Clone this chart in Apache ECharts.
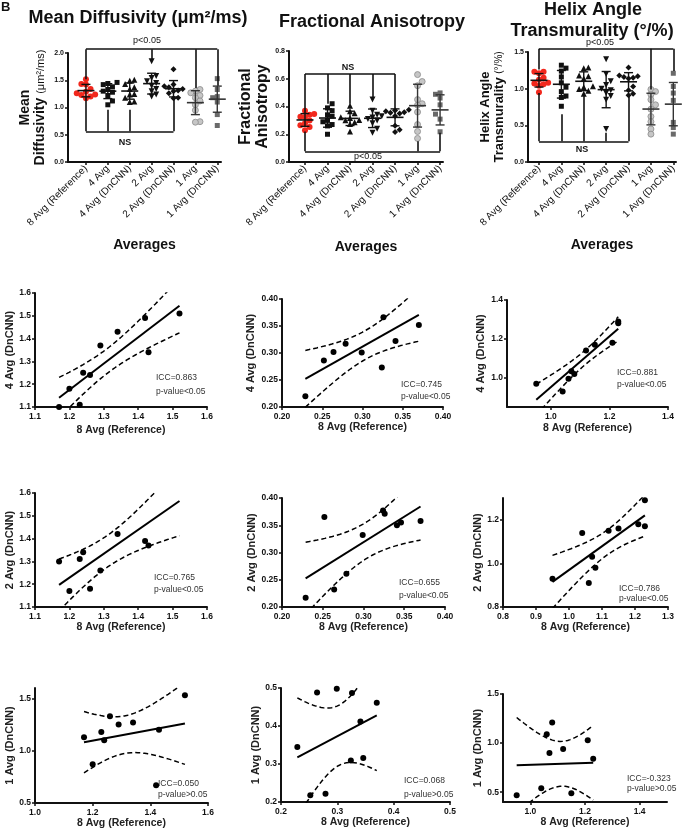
<!DOCTYPE html>
<html><head><meta charset="utf-8">
<script src="https://cdn.jsdelivr.net/npm/echarts@6/dist/echarts.min.js"></script>
<style>html,body{margin:0;padding:0;background:#fff}#c{width:691px;height:831px}</style>
</head><body><div id="c"></div>
<script>
// ---------------- DATA ----------------
const groups = ['8 Avg (Reference)','4 Avg','4 Avg (DnCNN)','2 Avg','2 Avg (DnCNN)','1 Avg','1 Avg (DnCNN)'];

// Mean diffusivity (um^2/ms)
const mdRef  = [1.17,1.20,1.23,1.24,1.26,1.29,1.34,1.42,1.43,1.52];
const md4    = [1.46,1.44,1.42,1.38,1.33,1.30,1.28,1.22,1.12,1.05];
const md4Dn  = [1.10,1.18,1.11,1.25,1.24,1.37,1.43,1.49,1.34,1.51];
const md2    = [1.85,1.58,1.54,1.48,1.45,1.40,1.34,1.30,1.24,1.20];
const md2Dn  = [1.30,1.17,1.31,1.34,1.18,1.26,1.42,1.39,1.37,1.70];
const md1    = [1.33,1.30,1.27,1.22,1.18,1.12,1.05,0.95,0.74,0.73];
const md1Dn  = [1.13,0.87,1.18,1.10,1.33,1.25,1.27,0.67,1.20,1.53];

// Fractional anisotropy
const faRef  = [0.229,0.252,0.264,0.279,0.299,0.324,0.326,0.341,0.346,0.370];
const fa4    = [0.42,0.39,0.37,0.34,0.33,0.30,0.29,0.27,0.26,0.20];
const fa4Dn  = [0.220,0.286,0.302,0.317,0.301,0.273,0.366,0.322,0.405,0.352];
const fa2    = [0.45,0.37,0.34,0.33,0.32,0.31,0.30,0.28,0.24,0.21];
const fa2Dn  = [0.217,0.365,0.232,0.261,0.332,0.377,0.371,0.350,0.355,0.358];
const fa1    = [0.63,0.58,0.55,0.45,0.42,0.41,0.36,0.27,0.22,0.17];
const fa1Dn  = [0.345,0.218,0.488,0.222,0.498,0.309,0.487,0.412,0.316,0.461];

// Helix angle transmurality (deg/%)
const haRef  = [0.95,1.04,1.06,1.07,1.08,1.12,1.15,1.21,1.23,1.23];
const ha4    = [1.32,1.28,1.24,1.16,1.08,1.02,0.96,0.90,0.88,0.76];
const ha4Dn  = [0.97,0.93,0.995,1.034,1.02,1.14,1.17,1.18,1.28,1.29];
const ha2    = [1.40,1.20,1.10,1.05,1.00,0.98,0.94,0.90,0.85,0.45];
const ha2Dn  = [0.93,1.14,0.91,1.03,0.98,1.15,1.16,1.18,1.29,1.17];
const ha1    = [0.99,0.96,0.92,0.85,0.78,0.72,0.62,0.55,0.45,0.38];
const ha1Dn  = [0.47,0.54,1.09,0.90,1.21,0.94,0.49,1.03,0.84,0.38];

// tick labels
const mdTopTicks = [0,0.5,1.0,1.5,2.0];
const faTopTicks = [0,0.2,0.4,0.6,0.8];
const haTopTicks = [0,0.5,1.0,1.5];
const mdTicksA = [1.1,1.2,1.3,1.4,1.5,1.6];
const mdTicksB = [1.0,1.2,1.4,1.6];
const mdTicksC = [0.5,1.0,1.5];
const faTicksA = [0.20,0.25,0.30,0.35,0.40];
const faTicksB = [0.2,0.3,0.4,0.5];
const haTicksA = [1.0,1.2,1.4];
const haTicksB = [0.8,0.9,1.0,1.1,1.2,1.3];
const haTicksC = [0.8,1.0,1.2];
const haTicksD = [0.5,1.0,1.5];
const iccLabels = [
  ['ICC=0.863','p-value<0.05'],['ICC=0.745','p-value<0.05'],['ICC=0.881','p-value<0.05'],
  ['ICC=0.765','p-value<0.05'],['ICC=0.655','p-value<0.05'],['ICC=0.786','p-value<0.05'],
  ['ICC=0.050','p-value>0.05'],['ICC=0.068','p-value>0.05'],['ICC=-0.323','p-value>0.05']
];

// ---------------- HELPERS ----------------
const F = 'Arial, "Liberation Sans", sans-serif';
const INK = '#111';
const mean = a => a.reduce((s,v)=>s+v,0)/a.length;
const sd = a => { const m = mean(a); return Math.sqrt(a.reduce((s,v)=>s+(v-m)*(v-m),0)/(a.length-1)); };
const T95 = {7:2.365, 8:2.306, 9:2.262, 10:2.228};
function fit(xs, ys){
  const n = xs.length, mx = mean(xs), my = mean(ys);
  let sxx = 0, sxy = 0;
  xs.forEach((x,i)=>{ sxx += (x-mx)*(x-mx); sxy += (x-mx)*(ys[i]-my); });
  const b = sxy/sxx, a = my - b*mx;
  let ss = 0; xs.forEach((x,i)=>{ const r = ys[i]-a-b*x; ss += r*r; });
  const s = Math.sqrt(ss/(n-2)), t = T95[n-2];
  return { f: x => a + b*x, band: x => t*s*Math.sqrt(1/n + (x-mx)*(x-mx)/sxx) };
}
function swarm(vals, win, step){
  const idx = vals.map((v,i)=>i).sort((p,q)=>vals[p]-vals[q]);
  const off = new Array(vals.length).fill(0), placed = [];
  const cands = [0, step, -step, 2*step, -2*step, 3*step, -3*step];
  idx.forEach(i=>{
    const near = placed.filter(j=>Math.abs(vals[j]-vals[i]) < win).map(j=>off[j]);
    const c = cands.find(c=>!near.some(o=>Math.abs(o-c) < step*0.9));
    off[i] = c === undefined ? 0 : c;
    placed.push(i);
  });
  return off;
}

const grids = [], xAxes = [], yAxes = [], series = [], graphics = [];
function axisBase(ticks, dec, fs, margin){
  return {
    axisLine:{show:true, onZero:false, lineStyle:{color:INK, width:2}},
    axisTick:{show:true, length:3, inside:false, customValues:ticks, lineStyle:{color:INK, width:1.5}},
    axisLabel:{customValues:ticks, formatter:v=>Number(v).toFixed(dec), color:INK, fontFamily:F, fontWeight:'bold', fontSize:fs, margin:margin},
    splitLine:{show:false}
  };
}
function text(x, y, s, fs, weight, align, color){
  graphics.push({type:'text', x, y, silent:true, style:{text:s, fontFamily:F, fontSize:fs, fontWeight:weight||'normal', fill:color||INK, textAlign:align||'center', textVerticalAlign:'middle'}});
}

// ---------------- TOP ROW ----------------
const groupStyle = [
  {symbol:'circle', size:6, color:'#f2281d'},
  {symbol:'rect', size:5, color:'#111'},
  {symbol:'triangle', size:6, color:'#111'},
  {symbol:'triangle', size:6, color:'#111', rotate:180},
  {symbol:'diamond', size:6, color:'#111'},
  {symbol:'circle', size:6, color:'#c6c6c6', border:'#8a8a8a'},
  {symbol:'rect', size:5, color:'#6a6a6a'}
];
const topPanels = [
  {data:[mdRef,md4,md4Dn,md2,md2Dn,md1,md1Dn], grid:{left:68,top:53,width:153,height:109}, xr:[-0.82,6.17], yr:[0,2], ticks:mdTopTicks,
   yName:'{a|Mean}\n{a|Diffusivity }{b|(μm²/ms)}', nameFs:14, yGap:20, xGap:76,
   brackets:[{level:2.07, ends:[[0,1.52],[3,1.87],[5,1.36],[6,1.40]]},{level:0.563, ends:[[0,1.20],[1,0.96],[2,0.96],[4,1.20]]}],
   notes:[[147,41,'p<0.05','normal'],[125,143,'NS','bold']]},
  {data:[faRef,fa4,fa4Dn,fa2,fa2Dn,fa1,fa1Dn], grid:{left:289,top:51,width:154,height:111}, xr:[-0.71,6.13], yr:[0,0.8], ticks:faTopTicks,
   yName:'{a|Fractional}\n{a|Anisotropy}', nameFs:16, yGap:16, xGap:78,
   brackets:[{level:0.635, ends:[[0,0.35],[1,0.42],[2,0.42],[3,0.46],[4,0.39]]},{level:0.077, ends:[[0,0.22],[5,0.15],[6,0.21]]}],
   notes:[[348,68,'NS','bold'],[368,157,'p<0.05','normal']]},
  {data:[haRef,ha4,ha4Dn,ha2,ha2Dn,ha1,ha1Dn], grid:{left:528,top:52,width:148,height:110}, xr:[-0.49,6.12], yr:[0,1.5], ticks:haTopTicks,
   yName:'{a|Helix Angle}\n{a|Transmurality }{b|(°/%)}', nameFs:13, yGap:22, xGap:76,
   brackets:[{level:1.545, ends:[[0,1.26],[5,0.99],[6,1.24]]},{level:0.282, ends:[[0,0.94],[1,0.65],[2,0.90],[3,0.40],[4,0.90]]}],
   notes:[[600,43,'p<0.05','normal'],[582,150,'NS','bold']]}
];
topPanels.forEach(p=>{
  const gi = grids.length;
  grids.push(Object.assign({outerBoundsMode:'none', containLabel:false}, p.grid));
  const cats = groups.map((g,i)=>i);
  xAxes.push(Object.assign(axisBase(cats,0,10,5), {gridIndex:gi, type:'value', min:p.xr[0], max:p.xr[1],
    name:'Averages', nameLocation:'middle', nameGap:p.xGap, nameTextStyle:{fontFamily:F, fontSize:14, fontWeight:'bold', color:INK}}));
  const xa = xAxes[xAxes.length-1];
  xa.axisLabel = {customValues:cats, formatter:v=>groups[Math.round(v)], rotate:45, color:INK, fontFamily:F, fontSize:10, margin:5};
  yAxes.push(Object.assign(axisBase(p.ticks,1,7,4), {gridIndex:gi, type:'value', min:p.yr[0], max:p.yr[1],
    name:p.yName, nameLocation:'middle', nameGap:p.yGap,
    nameTextStyle:{fontFamily:F, color:INK, lineHeight:p.nameFs+1, rich:{a:{fontFamily:F, fontSize:p.nameFs, fontWeight:'bold', color:INK, lineHeight:p.nameFs+1}, b:{fontFamily:F, fontSize:p.nameFs-3, color:INK, lineHeight:p.nameFs+1}}}}));
  const ai = xAxes.length-1;
  const spacing = p.grid.width/(p.xr[1]-p.xr[0]);
  const pxPerVal = p.grid.height/(p.yr[1]-p.yr[0]);
  p.data.forEach((vals, gidx)=>{
    const st = groupStyle[gidx];
    const off = swarm(vals, 5/pxPerVal, 4.6/spacing);
    series.push({type:'scatter', xAxisIndex:ai, yAxisIndex:ai, symbol:st.symbol, symbolSize:st.size, symbolRotate:st.rotate||0,
      itemStyle:{color:st.color, borderColor:st.border||st.color, borderWidth:st.border?0.8:0, opacity:1},
      data: vals.map((v,i)=>[gidx+off[i], v]), z:3, silent:true});
  });
  series.push({type:'custom', xAxisIndex:ai, yAxisIndex:ai, z:5, silent:true,
    data: p.data.map((vals,i)=>[i, mean(vals), sd(vals)]),
    renderItem:(params, api)=>{
      const x = api.value(0), m = api.value(1), s = api.value(2);
      const pm = api.coord([x,m]), pt = api.coord([x,m+s]), pb = api.coord([x,m-s]);
      const col = x >= 5 ? '#333' : INK;
      const ls = {stroke:col, lineWidth:1.4};
      return {type:'group', children:[
        {type:'line', shape:{x1:pm[0]-8.5,y1:pm[1],x2:pm[0]+8.5,y2:pm[1]}, style:{stroke:col, lineWidth:1.6}},
        {type:'line', shape:{x1:pt[0],y1:pt[1],x2:pb[0],y2:pb[1]}, style:ls},
        {type:'line', shape:{x1:pt[0]-4.5,y1:pt[1],x2:pt[0]+4.5,y2:pt[1]}, style:ls},
        {type:'line', shape:{x1:pb[0]-4.5,y1:pb[1],x2:pb[0]+4.5,y2:pb[1]}, style:ls}
      ]};
    }});
  p.brackets.forEach(b=>{
    const xs = b.ends.map(e=>e[0]);
    const data = [{coords:[[Math.min(...xs), b.level],[Math.max(...xs), b.level]]}]
      .concat(b.ends.map(e=>({coords:[[e[0], b.level],[e[0], e[1]]]})));
    series.push({type:'lines', coordinateSystem:'cartesian2d', xAxisIndex:ai, yAxisIndex:ai, clip:false, silent:true, z:6,
      lineStyle:{color:INK, width:1.6, opacity:1, curveness:0}, data});
  });
  p.notes.forEach(n=>text(n[0], n[1], n[2], 9, n[3]));
});

// ---------------- SCATTER ROWS ----------------
const scatterPanels = [
  {x:mdRef, y:md4Dn, grid:{left:35,top:293,width:172,height:114}, xr:[1.1,1.6], xt:mdTicksA, yr:[1.1,1.6], yt:mdTicksA, xd:1, yd:1, yName:'4 Avg (DnCNN)', xGap:18, yGap:14, icc:[156,378,392]},
  {x:faRef, y:fa4Dn, grid:{left:282,top:299,width:161,height:108}, xr:[0.2,0.4], xt:faTicksA, yr:[0.2,0.4], yt:faTicksA, xd:2, yd:2, yName:'4 Avg (DnCNN)', xGap:13, yGap:26, icc:[401,385,397]},
  {x:haRef, y:ha4Dn, grid:{left:507,top:300,width:161,height:107}, xr:[0.85,1.4], xt:haTicksA, yr:[0.85,1.4], yt:haTicksA, xd:1, yd:1, yName:'4 Avg (DnCNN)', xGap:16, yGap:21, icc:[617,373,385]},
  {x:mdRef, y:md2Dn, grid:{left:35,top:493,width:172,height:114}, xr:[1.1,1.6], xt:mdTicksA, yr:[1.1,1.6], yt:mdTicksA, xd:1, yd:1, yName:'2 Avg (DnCNN)', xGap:15, yGap:16, icc:[154,578,590]},
  {x:faRef, y:fa2Dn, grid:{left:282,top:498,width:163,height:109}, xr:[0.2,0.4], xt:faTicksA, yr:[0.2,0.4], yt:faTicksA, xd:2, yd:2, yName:'2 Avg (DnCNN)', xGap:15, yGap:24, icc:[399,583,596]},
  {x:haRef, y:ha2Dn, grid:{left:503,top:498,width:165,height:109}, xr:[0.8,1.3], xt:haTicksB, yr:[0.8,1.3], yt:haTicksC, xd:1, yd:1, yName:'2 Avg (DnCNN)', xGap:15, yGap:19, icc:[619,589,599]},
  {x:mdRef, y:md1Dn, grid:{left:35,top:688,width:173,height:115}, xr:[1.0,1.6], xt:mdTicksB, yr:[0.5,1.6], yt:mdTicksC, xd:1, yd:1, yName:'1 Avg (DnCNN)', xGap:14, yGap:16, icc:[158,784,795]},
  {x:faRef, y:fa1Dn, grid:{left:281,top:688,width:169,height:114}, xr:[0.2,0.5], xt:faTicksB, yr:[0.2,0.5], yt:faTicksB, xd:1, yd:1, yName:'1 Avg (DnCNN)', xGap:15, yGap:18, icc:[404,781,795]},
  {x:haRef, y:ha1Dn, grid:{left:503,top:694,width:164,height:108}, xr:[0.9,1.5], xt:haTicksA, yr:[0.4,1.5], yt:haTicksD, xd:1, yd:1, yName:'1 Avg (DnCNN)', xGap:14, yGap:14, icc:[627,779,789]}
];
scatterPanels.forEach((p, k)=>{
  const gi = grids.length;
  grids.push(Object.assign({outerBoundsMode:'none', containLabel:false}, p.grid));
  xAxes.push(Object.assign(axisBase(p.xt, p.xd, 8.5, 5), {gridIndex:gi, type:'value', min:p.xr[0], max:p.xr[1],
    name:'8 Avg (Reference)', nameLocation:'middle', nameGap:p.xGap, nameTextStyle:{fontFamily:F, fontSize:10.5, fontWeight:'bold', color:'#222'}}));
  yAxes.push(Object.assign(axisBase(p.yt, p.yd, 8.5, 4), {gridIndex:gi, type:'value', min:p.yr[0], max:p.yr[1],
    name:p.yName, nameLocation:'middle', nameGap:p.yGap, nameTextStyle:{fontFamily:F, fontSize:11, fontWeight:'bold', color:'#222'}}));
  const ai = xAxes.length-1;
  const r = fit(p.x, p.y);
  const x0 = Math.min(...p.x), x1 = Math.max(...p.x), N = 60;
  const xsS = Array.from({length:N+1}, (_,i)=>x0 + (x1-x0)*i/N);
  const common = {type:'line', xAxisIndex:ai, yAxisIndex:ai, showSymbol:false, symbol:'none', silent:true, clip:true, animation:false};
  series.push(Object.assign({}, common, {data:[[x0, r.f(x0)],[x1, r.f(x1)]], lineStyle:{color:'#000', width:2}, z:4}));
  series.push(Object.assign({}, common, {data:xsS.map(x=>[x, r.f(x)+r.band(x)]), lineStyle:{color:'#000', width:1.5, type:[5,3]}, z:4}));
  series.push(Object.assign({}, common, {data:xsS.map(x=>[x, r.f(x)-r.band(x)]), lineStyle:{color:'#000', width:1.5, type:[5,3]}, z:4}));
  series.push({type:'scatter', xAxisIndex:ai, yAxisIndex:ai, symbol:'circle', symbolSize:6, itemStyle:{color:'#000', opacity:1}, clip:true, silent:true, z:5,
    data:p.x.map((x,i)=>[x, p.y[i]])});
  text(p.icc[0], p.icc[1], iccLabels[k][0], 8.5, 'normal', 'left', '#333');
  text(p.icc[0], p.icc[2], iccLabels[k][1], 8.5, 'normal', 'left', '#333');
});

// ---------------- TITLES ----------------
text(138, 18, 'Mean Diffusivity (μm²/ms)', 18, 'bold');
text(372, 22, 'Fractional Anisotropy', 18, 'bold');
text(593, 10, 'Helix Angle', 18, 'bold');
text(592, 31, 'Transmurality (°/%)', 18, 'bold');
text(1, 7, 'B', 13, 'bold', 'left');

const chart = echarts.init(document.getElementById('c'), null, {renderer:'canvas'});
chart.setOption({
  animation:false, backgroundColor:'#fff',
  grid:grids, xAxis:xAxes, yAxis:yAxes, series, graphic:graphics
});
</script></body></html>
